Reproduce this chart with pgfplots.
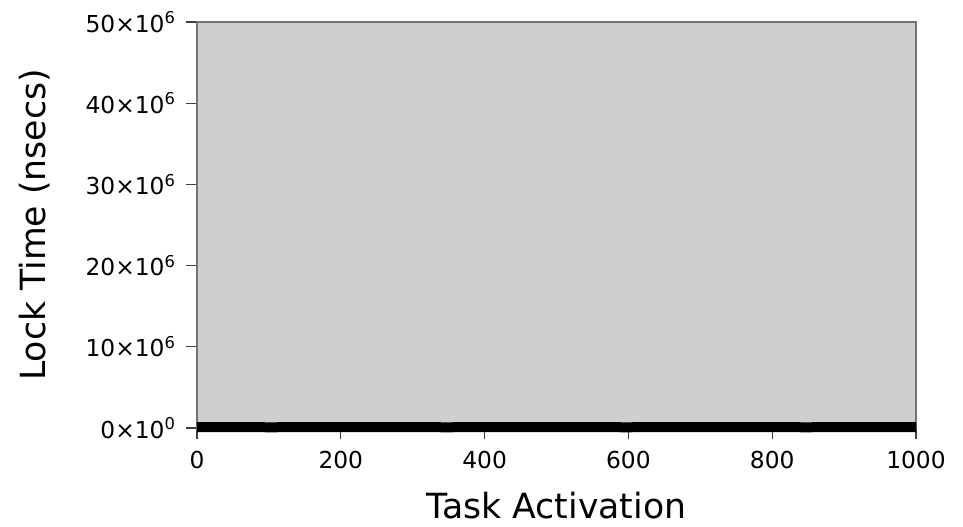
\documentclass[border=0pt]{standalone}
\usepackage{fontspec}
\setmainfont{DejaVu Sans}
\usepackage{pgfplots}
\pgfplotsset{compat=1.18}
\begin{document}
\begin{tikzpicture}[x=1pt,y=1pt]
\useasboundingbox (-147.75,-74.25) rectangle (574.5,321);
\begin{axis}[
  at={(0,0)}, anchor=south west,
  scale only axis,
  width=539.25pt, height=304.5pt,
  xmin=0, xmax=1000, ymin=0, ymax=50e6,
  axis background/.style={fill=black!19},
  axis line style={black!55, line width=0.8pt},
  xtick pos=bottom, ytick pos=left,
  xtick={0,200,400,600,800,1000},
  ytick={0,10e6,20e6,30e6,40e6,50e6},
  yticklabels={0×10\textsuperscript{0},10×10\textsuperscript{6},20×10\textsuperscript{6},30×10\textsuperscript{6},40×10\textsuperscript{6},50×10\textsuperscript{6}},
  scaled y ticks=false,
  /pgf/number format/assume math mode=true,
  /pgf/number format/1000 sep={},
  tick align=outside, major tick length=8.5pt,
  tick style={black!75, line width=0.9pt},
  ticklabel style={font=\fontsize{17.5}{20}\selectfont},
  yticklabel style={xshift=-4pt},
  xticklabel style={yshift=-5pt},
  xlabel={Task Activation}, ylabel={Lock Time (nsecs)},
  label style={font=\fontsize{26}{30}\selectfont},
  xlabel style={at={(axis description cs:0.5,-0.19)}, anchor=center},
  ylabel style={at={(axis description cs:-0.2253,0.5)}, anchor=center},
  clip=false,
]
\addplot[black, line width=7.5pt, line join=round] coordinates {
(0,100000) (50,110000) (100,90000) (150,100000) (200,100000) (250,120000)
(300,100000) (350,90000) (400,110000) (450,100000) (500,110000) (550,100000)
(600,90000) (650,110000) (700,100000) (750,120000) (800,100000) (850,90000)
(900,110000) (950,100000) (1000,100000)};
\end{axis}
\end{tikzpicture}
\end{document}
